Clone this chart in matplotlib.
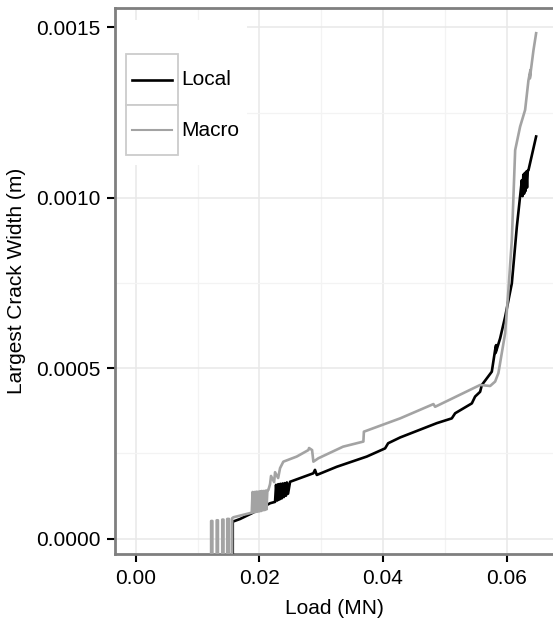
import matplotlib
matplotlib.use("Agg")
from matplotlib import pyplot as plt
from matplotlib.patches import Rectangle
from matplotlib.lines import Line2D
from matplotlib.ticker import MultipleLocator, FuncFormatter

plt.rcParams['font.family'] = ['Liberation Sans', 'DejaVu Sans']

# Local model: largest crack width vs load
load_local = [0.0, 0.0157, 0.0157, 0.01688, 0.01877, 0.02173, 0.02254, 0.0227, 0.0229,
              0.02305, 0.02325, 0.0234, 0.0236, 0.02375, 0.02395, 0.0241, 0.0243, 0.02445,
              0.02464, 0.02497, 0.02874, 0.0290, 0.02929, 0.03252, 0.03738, 0.04034,
              0.04083, 0.04277, 0.0487, 0.05113, 0.05167, 0.05437, 0.0549, 0.05571,
              0.05599, 0.0576, 0.05814, 0.0583, 0.05822, 0.05895, 0.05976, 0.06084,
              0.06165, 0.06246, 0.06258, 0.0627, 0.06282, 0.06294, 0.06306, 0.06318,
              0.0633, 0.06342, 0.06353, 0.06477]
crack_local = [-0.0001, -0.0001, 0.000050, 0.0000578, 0.0000745, 0.000104, 0.000108,
               0.000158, 0.000112, 0.00016, 0.000115, 0.000161, 0.000118, 0.000162,
               0.000122, 0.000163, 0.000126, 0.000165, 0.000132, 0.000167, 0.000192,
               0.000202, 0.000187, 0.000211, 0.000241, 0.000265, 0.00028, 0.000297,
               0.000339, 0.000353, 0.000368, 0.000397, 0.000417, 0.000431, 0.000451,
               0.00049, 0.000554, 0.000568, 0.000545, 0.000588, 0.000651, 0.000749,
               0.000915, 0.001052, 0.001005, 0.001068, 0.001012, 0.001073, 0.00102,
               0.001077, 0.00103, 0.00108, 0.001081, 0.00118]

# Macro model
load_macro = [0.0, 0.0122, 0.0122, 0.0124, 0.0124, 0.0131, 0.0131, 0.0133, 0.0133, 0.0140,
              0.0140, 0.0142, 0.0142, 0.0148, 0.0148, 0.0151, 0.0151, 0.0156, 0.0156, 0.0158,
              0.01877, 0.0189, 0.01905, 0.0192, 0.01935, 0.0195, 0.01965, 0.0198, 0.01995,
              0.0201, 0.02025, 0.0204, 0.02055, 0.0207, 0.02085, 0.021, 0.02115, 0.0213,
              0.02146, 0.02173, 0.02189, 0.02239, 0.02254, 0.02304, 0.02335, 0.02388, 0.02605,
              0.02793, 0.02804, 0.02853, 0.02874, 0.02955, 0.03354, 0.03683, 0.03691, 0.04277,
              0.04816, 0.04843, 0.05571, 0.05733, 0.05814, 0.05867, 0.05976, 0.06029, 0.06084,
              0.06138, 0.06218, 0.06299, 0.06353, 0.06385, 0.06375, 0.06434, 0.06477]
crack_macro = [-0.0001, -0.0001, 0.000052, 0.000052, -0.0001, -0.0001, 0.000054, 0.000054,
               -0.0001, -0.0001, 0.000056, 0.000056, -0.0001, -0.0001, 0.000058, 0.000058,
               -0.0001, -0.0001, 0.00006, 0.0000628, 0.0000763, 0.000137, 0.000077, 0.000137,
               0.000078, 0.000138, 0.000079, 0.000138, 0.00008, 0.000139, 0.000081, 0.00014,
               0.000083, 0.00014, 0.000084, 0.000141, 0.000086, 0.000142, 0.000143, 0.00016,
               0.000184, 0.000166, 0.000195, 0.000178, 0.000207, 0.000226, 0.000241, 0.00026,
               0.000266, 0.00026, 0.000226, 0.000236, 0.00027, 0.000285, 0.000314, 0.000353,
               0.000395, 0.000387, 0.000451, 0.000448, 0.000461, 0.000486, 0.000603, 0.00073,
               0.000876, 0.00114, 0.001209, 0.001258, 0.001345, 0.001375, 0.00135, 0.001433,
               0.001483]

series_names = ["Local", "Macro"]
series_colors = ["#000000", "#A3A3A3"]

W, H = 553, 630
fig = plt.figure(figsize=(W / 100, H / 100), dpi=100)
ax = fig.add_axes([115 / W, 1 - 554 / H, (W - 115) / W, (554 - 8) / H])

ax.plot(load_local, crack_local, color=series_colors[0], lw=1.9, zorder=3)
ax.plot(load_macro, crack_macro, color=series_colors[1], lw=1.9, zorder=4)

ax.set_xlim(-0.00335, 0.0675)
ax.set_ylim(-0.0000449, 0.001557)
ax.xaxis.set_major_locator(MultipleLocator(0.02))
ax.xaxis.set_minor_locator(MultipleLocator(0.01))
ax.yaxis.set_major_locator(MultipleLocator(0.0005))
ax.yaxis.set_minor_locator(MultipleLocator(0.00025))
ax.xaxis.set_major_formatter(FuncFormatter(lambda v, p: "%.2f" % v))
ax.yaxis.set_major_formatter(FuncFormatter(lambda v, p: "%.4f" % v))

ax.grid(True, which="major", color="#E8E8E8", lw=1.1, zorder=0)
ax.grid(True, which="minor", color="#F3F3F3", lw=0.9, zorder=0)
ax.set_axisbelow(True)

for side in ["left", "top", "bottom"]:
    ax.spines[side].set_color("#7F7F7F")
    ax.spines[side].set_linewidth(2.0)
ax.spines["right"].set_visible(False)

ax.tick_params(which="major", direction="out", length=5.5, width=1.5, color="black",
               labelsize=15, labelcolor="black", pad=5)
ax.tick_params(which="minor", length=0)

ax.set_xlabel("Load (MN)", fontsize=15, labelpad=8)
ax.set_ylabel("Largest Crack Width (m)", fontsize=15, labelpad=7)

# legend drawn by hand to get the boxed keys
def fx(px):
    return px / W

def fy(py):
    return 1 - py / H

fig.patches.append(Rectangle((fx(117), fy(165)), fx(246.7) - fx(117), fy(20) - fy(165),
                             transform=fig.transFigure, facecolor="white", edgecolor="none",
                             zorder=5))
for i, (name, col) in enumerate(zip(series_names, series_colors)):
    top = 54.3 + i * 50.5
    fig.patches.append(Rectangle((fx(125.7), fy(top + 50.5)), fx(177.7) - fx(125.7),
                                 fy(top) - fy(top + 50.5), transform=fig.transFigure,
                                 facecolor="white", edgecolor="#CCCCCC", lw=1.3, zorder=6))
    yc = fy(top + 25.5)
    fig.lines.append(Line2D([fx(131.7), fx(171.7)], [yc, yc], transform=fig.transFigure,
                            color=col, lw=1.5 if i else 1.9, zorder=7))
    fig.text(fx(181.5), yc, name, fontsize=15, va="center", ha="left", zorder=8)

fig.savefig("out.png", dpi=100)
